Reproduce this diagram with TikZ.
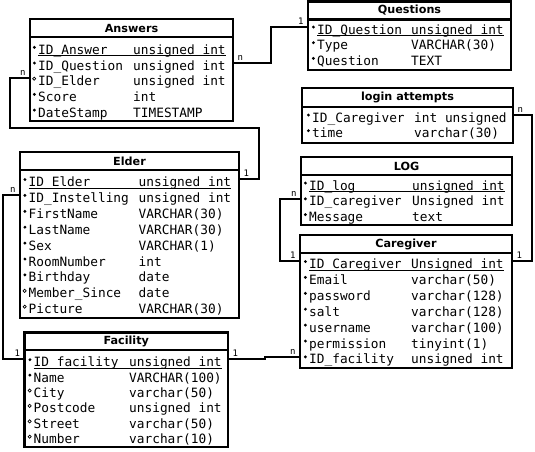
\documentclass[tikz,border=0pt]{standalone}
\usepackage{fontspec}
\newfontfamily\rowfont{DejaVu Sans Mono}
\newfontfamily\headfont{DejaVu Sans}
\newcommand\nn{\llap{\tikz[baseline=-7pt]\fill (0,0) circle (1.6pt);\kern2.2pt}}
\newcommand\nl{\llap{\tikz[baseline=-7pt]\draw[line width=0.7pt] (0,0) circle (1.6pt);\kern2.1pt}}

\begin{document}
\begin{tikzpicture}[x=1pt, y=-1pt,
    tab/.style={draw, line width=2.2pt, inner sep=0pt, outer sep=0pt, anchor=north west},
    head/.style={tab, minimum height=18pt, font=\headfont\bfseries\fontsize{11.2}{13}\selectfont},
    fname/.style={anchor=base west, inner sep=0pt, text height=14.6pt, text depth=0pt, font=\rowfont\fontsize{12.8}{15}\selectfont},
    ftype/.style={fname},
    keyline/.style={line width=0.9pt},
    link/.style={line width=2pt},
    card/.style={inner xsep=3.5pt, inner ysep=1.5pt, font=\rowfont\fontsize{9}{10}\selectfont}]
    \path[use as bounding box, fill=white] (0,0) rectangle (535,451);

    \node[head, minimum width=203pt] (answers) at (30,19) {Answers};
    \node[tab, minimum width=203pt, minimum height=84pt] (answersb) at (answers.south west) {};
    \node[fname] (aID) at (38,54.3) {\nn ID\_Answer};
    \node[ftype] (aIDt) at (133,54.3) {unsigned int};
    \node[fname] (aQ) at (38,70) {\nn ID\_Question};
    \node[ftype] (aQt) at (133,70) {unsigned int};
    \node[fname] (aE) at (38,85.7) {\nl ID\_Elder};
    \node[ftype] (aEt) at (133,85.7) {unsigned int};
    \node[fname] (aS) at (38,101.4) {\nn Score};
    \node[ftype] (aSt) at (133,101.4) {int};
    \node[fname] (aD) at (38,117.1) {\nn DateStamp};
    \node[ftype] (aDt) at (133,117.1) {TIMESTAMP};
    \draw[keyline] ([yshift=-1.6pt]aID.base west) -- ([yshift=-1.6pt]aIDt.base east);

    \node[head, minimum width=203pt] (questions) at (308,1.5) {Questions};
    \node[tab, minimum width=203pt, minimum height=50.5pt] (questionsb) at (questions.south west) {};
    \node[fname] (qID) at (317,34) {\nn ID\_Question};
    \node[ftype] (qIDt) at (411,34) {unsigned int};
    \node[fname] (qT) at (317,49.7) {\nn Type};
    \node[ftype] (qTt) at (411,49.7) {VARCHAR(30)};
    \node[fname] (qQ) at (317,65.4) {\nn Question};
    \node[ftype] (qQt) at (411,65.4) {TEXT};
    \draw[keyline] ([yshift=-1.6pt]qID.base west) -- ([yshift=-1.6pt]qIDt.base east);

    \node[head, minimum width=211pt, minimum height=19pt] (login) at (302,88) {login attempts};
    \node[tab, minimum width=211pt, minimum height=36pt] (loginb) at (login.south west) {};
    \node[fname] (liCg) at (312,122) {\nn ID\_Caregiver};
    \node[ftype] (liCgt) at (414,122) {int unsigned};
    \node[fname] (liT) at (312,137.7) {\nn time};
    \node[ftype] (liTt) at (414,137.7) {varchar(30)};

    \node[head, minimum width=219pt] (elder) at (20,152) {Elder};
    \node[tab, minimum width=219pt, minimum height=148pt] (elderb) at (elder.south west) {};
    \node[fname] (eID) at (28.5,186.5) {\nn ID\_Elder};
    \node[ftype] (eIDt) at (138.5,186.5) {unsigned int};
    \node[fname] (eIn) at (28.5,202.4) {\nn ID\_Instelling};
    \node[ftype] (eInt) at (138.5,202.4) {unsigned int};
    \node[fname] (eF) at (28.5,218.3) {\nn FirstName};
    \node[ftype] (eFt) at (138.5,218.3) {VARCHAR(30)};
    \node[fname] (eL) at (28.5,234.2) {\nn LastName};
    \node[ftype] (eLt) at (138.5,234.2) {VARCHAR(30)};
    \node[fname] (eS) at (28.5,250.1) {\nn Sex};
    \node[ftype] (eSt) at (138.5,250.1) {VARCHAR(1)};
    \node[fname] (eR) at (28.5,266) {\nn RoomNumber};
    \node[ftype] (eRt) at (138.5,266) {int};
    \node[fname] (eB) at (28.5,281.9) {\nn Birthday};
    \node[ftype] (eBt) at (138.5,281.9) {date};
    \node[fname] (eM) at (28.5,297.8) {\nl Member\_Since};
    \node[ftype] (eMt) at (138.5,297.8) {date};
    \node[fname] (eP) at (28.5,313.7) {\nl Picture};
    \node[ftype] (ePt) at (138.5,313.7) {VARCHAR(30)};
    \draw[keyline] ([yshift=-1.6pt]eID.base west) -- ([yshift=-1.6pt]eIDt.base east);

    \node[head, minimum width=211pt] (log) at (301,157) {LOG};
    \node[tab, minimum width=211pt, minimum height=50pt] (logb) at (log.south west) {};
    \node[fname] (lID) at (309,190) {\nn ID\_log};
    \node[ftype] (lIDt) at (412,190) {unsigned int};
    \node[fname] (lCg) at (309,205.8) {\nn ID\_caregiver};
    \node[ftype] (lCgt) at (412,205.8) {Unsigned int};
    \node[fname] (lM) at (309,221.6) {\nn Message};
    \node[ftype] (lMt) at (412,221.6) {text};
    \draw[keyline] ([yshift=-1.6pt]lID.base west) -- ([yshift=-1.6pt]lIDt.base east);

    \node[head, minimum width=212pt] (caregiver) at (300,235) {Caregiver};
    \node[tab, minimum width=212pt, minimum height=115pt] (caregiverb) at (caregiver.south west) {};
    \node[fname] (cID) at (309,268.5) {\nn ID\_Caregiver};
    \node[ftype] (cIDt) at (411,268.5) {Unsigned int};
    \node[fname] (cE) at (309,284.4) {\nn Email};
    \node[ftype] (cEt) at (411,284.4) {varchar(50)};
    \node[fname] (cP) at (309,300.3) {\nn password};
    \node[ftype] (cPt) at (411,300.3) {varchar(128)};
    \node[fname] (cS) at (309,316.2) {\nn salt};
    \node[ftype] (cSt) at (411,316.2) {varchar(128)};
    \node[fname] (cU) at (309,332.1) {\nn username};
    \node[ftype] (cUt) at (411,332.1) {varchar(100)};
    \node[fname] (cPm) at (309,348) {\nn permission};
    \node[ftype] (cPmt) at (411,348) {tinyint(1)};
    \node[fname] (cFac) at (309,363.9) {\nn ID\_facility};
    \node[ftype] (cFact) at (411,363.9) {unsigned int};
    \draw[keyline] ([yshift=-1.6pt]cID.base west) -- ([yshift=-1.6pt]cIDt.base east);

    \node[head, minimum width=203.5pt, minimum height=17.5pt] (facility) at (24.5,332.5) {Facility};
    \node[tab, minimum width=203.5pt, minimum height=97pt] (facilityb) at (facility.south west) {};
    \node[fname] (fID) at (33.5,366.7) {\nn ID\_facility};
    \node[ftype] (fIDt) at (129,366.7) {unsigned int};
    \node[fname] (fN) at (33.5,382.1) {\nn Name};
    \node[ftype] (fNt) at (129,382.1) {VARCHAR(100)};
    \node[fname] (fC) at (33.5,397.5) {\nl City};
    \node[ftype] (fCt) at (129,397.5) {varchar(50)};
    \node[fname] (fP) at (33.5,412.9) {\nl Postcode};
    \node[ftype] (fPt) at (129,412.9) {unsigned int};
    \node[fname] (fS) at (33.5,428.3) {\nl Street};
    \node[ftype] (fSt) at (129,428.3) {varchar(50)};
    \node[fname] (fNr) at (33.5,443.7) {\nl Number};
    \node[ftype] (fNrt) at (129,443.7) {varchar(10)};
    \draw[keyline] ([yshift=-1.6pt]fID.base west) -- ([yshift=-1.6pt]fIDt.base east);

    \draw[link] (answersb.east |- aQ.west) node[card, above right] (n1) {n} -- ++(38,0) |- (questionsb.west |- qID.west) node[card, above left] (o1) {1};
    \draw[link] (answersb.west |- aE.west) node[card, above left] (n2) {n} -| ++(-20,50) -| ([xshift=20pt]elderb.east |- eID.west) -- (elderb.east |- eID.west) node[card, above right] (o2) {1};
    \draw[link] (elderb.west |- eIn.west) node[card, above left] (n3) {n} -- ++(-17,0) |- (facilityb.west |- fID.west) node[card, above left] (o3) {1};
    \draw[link] (facilityb.east |- fID.west) node[card, above right] (o4) {1} -- ++(37,0) |- (caregiverb.west |- cFac.west) node[card, above left] (n4) {n};
    \draw[link] (logb.west |- lCg.west) node[card, above left] (n5) {n} -- ++(-21,0) |- (caregiverb.west |- cID.west) node[card, above left] (o5) {1};
    \draw[link] (loginb.east |- liCg.west) node[card, above right] (n6) {n} -- ++(19,0) |- (caregiverb.east |- cID.west) node[card, above right] (o6) {1};
\end{tikzpicture}
\end{document}
